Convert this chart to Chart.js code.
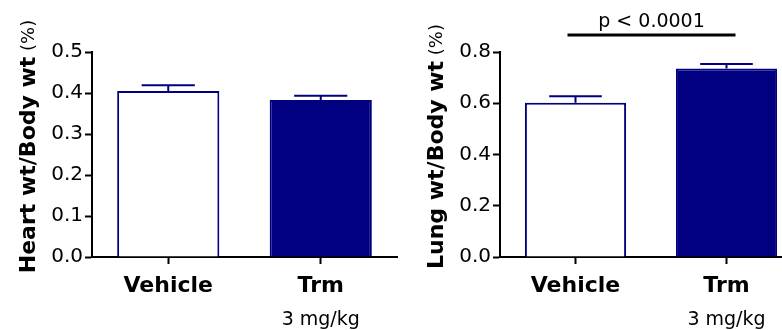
<!DOCTYPE html>
<html>
<head>
<meta charset="utf-8">
<script src="https://cdn.jsdelivr.net/npm/chart.js@4.4.0/dist/chart.umd.min.js"></script>
<style>
  html, body { margin:0; padding:0; background:#fff; overflow:hidden; width:782px; height:330px; }
  .panel { position:absolute; top:0; height:330px; }
  #heartWrap { left:0; width:400px; }
  #lungWrap { left:400px; width:410px; }
</style>
</head>
<body>
<div id="heartWrap" class="panel"><canvas id="heartChart"></canvas></div>
<div id="lungWrap" class="panel"><canvas id="lungChart"></canvas></div>
<script>
// Data
const groups = ['Vehicle', 'Trm'];
const doses = ['', '3 mg/kg'];

const heartMean = [0.405, 0.383];
const heartSem  = [0.014, 0.010];

const lungMean = [0.602, 0.736];
const lungSem  = [0.025, 0.017];

const heartTicks = { max: 0.5, step: 0.1 };
const lungTicks  = { max: 0.8, step: 0.2 };
const lungPValue = 'p < 0.0001';

const NAVY = '#000080';
const FONT = 'DejaVu Sans';

// error bars (upper half only, like Prism)
const errorBars = {
  id: 'errorBars',
  afterDatasetsDraw(chart, args, opts) {
    const ctx = chart.ctx;
    const y = chart.scales.y;
    const meta = chart.getDatasetMeta(0);
    ctx.save();
    ctx.strokeStyle = NAVY;
    ctx.lineWidth = 2;
    meta.data.forEach((bar, i) => {
      const top = y.getPixelForValue(opts.mean[i] + opts.sem[i]);
      const half = bar.width * 0.26;
      ctx.beginPath();
      ctx.moveTo(bar.x, bar.y);
      ctx.lineTo(bar.x, top);
      ctx.moveTo(bar.x - half, top);
      ctx.lineTo(bar.x + half, top);
      ctx.stroke();
    });
    ctx.restore();
  }
};

// y title: bold part + plain "(%)"
const yTitle = {
  id: 'yTitle',
  afterDraw(chart, args, opts) {
    const ctx = chart.ctx;
    const area = chart.chartArea;
    ctx.save();
    ctx.fillStyle = '#000';
    ctx.textBaseline = 'middle';
    ctx.font = `bold 22px "${FONT}"`;
    const w1 = ctx.measureText(opts.text).width;
    ctx.font = `18px "${FONT}"`;
    const w2 = ctx.measureText(' ' + opts.unit).width;
    const mid = (area.top + area.bottom) / 2 - 8;
    ctx.translate(opts.x, mid + (w1 + w2) / 2);
    ctx.rotate(-Math.PI / 2);
    ctx.textAlign = 'left';
    ctx.font = `bold 22px "${FONT}"`;
    ctx.fillText(opts.text, 0, 0);
    ctx.font = `18px "${FONT}"`;
    ctx.fillText(' ' + opts.unit, w1, 0);
    ctx.restore();
  }
};

// second line under the category label
const doseLabels = {
  id: 'doseLabels',
  afterDraw(chart) {
    const ctx = chart.ctx;
    const x = chart.scales.x;
    ctx.save();
    ctx.fillStyle = '#000';
    ctx.font = `19px "${FONT}"`;
    ctx.textAlign = 'center';
    ctx.textBaseline = 'alphabetic';
    doses.forEach((d, i) => {
      if (d) ctx.fillText(d, x.getPixelForValue(i), chart.chartArea.bottom + 68);
    });
    ctx.restore();
  }
};

// significance bracket
const sigBar = {
  id: 'sigBar',
  afterDraw(chart, args, opts) {
    if (!opts.label) return;
    const ctx = chart.ctx;
    const x = chart.scales.x;
    const x1 = x.getPixelForValue(opts.from) - 8;
    const x2 = x.getPixelForValue(opts.to) + 9;
    const yLine = chart.chartArea.top - 17;
    ctx.save();
    ctx.strokeStyle = '#000';
    ctx.lineWidth = 3;
    ctx.beginPath();
    ctx.moveTo(x1, yLine);
    ctx.lineTo(x2, yLine);
    ctx.stroke();
    ctx.fillStyle = '#000';
    ctx.font = `19px "${FONT}"`;
    ctx.textAlign = 'center';
    ctx.textBaseline = 'alphabetic';
    ctx.fillText(opts.label, (x1 + x2) / 2, yLine - 8);
    ctx.restore();
  }
};

function makeChart(id, mean, sem, ticks, cfg) {
  return new Chart(document.getElementById(id), {
    type: 'bar',
    data: {
      labels: groups,
      datasets: [{
        data: mean,
        backgroundColor: ['#ffffff', NAVY],
        borderColor: NAVY,
        borderWidth: 2,
        barPercentage: 0.67,
        categoryPercentage: 1
      }]
    },
    options: {
      responsive: true,
      maintainAspectRatio: false,
      animation: false,
      layout: { padding: { top: 52, right: cfg.padRight, left: 0, bottom: 0 } },
      plugins: {
        legend: { display: false },
        tooltip: { enabled: false },
        errorBars: { mean, sem },
        yTitle: { text: cfg.title, unit: '(%)', x: cfg.titleX },
        sigBar: { label: cfg.sig, from: 0, to: 1 }
      },
      scales: {
        x: {
          grid: { drawOnChartArea: false, offset: false, tickLength: 7, tickWidth: 2, tickColor: '#000' },
          border: { color: '#000', width: 2 },
          ticks: { color: '#000', font: { family: FONT, weight: 'bold', size: 22 }, padding: 9, maxRotation: 0 },
          afterFit(s) { s.height = 73; }
        },
        y: {
          min: 0,
          max: ticks.max,
          grid: { drawOnChartArea: false, tickLength: 7, tickWidth: 2, tickColor: '#000' },
          border: { color: '#000', width: 2 },
          ticks: {
            stepSize: ticks.step,
            color: '#000',
            font: { family: FONT, size: 20 },
            padding: 2,
            callback: v => Number(v).toFixed(1)
          },
          afterFit(s) { s.width = cfg.yWidth; }
        }
      }
    },
    plugins: [errorBars, yTitle, doseLabels, sigBar]
  });
}

makeChart('heartChart', heartMean, heartSem, heartTicks,
  { title: 'Heart wt/Body wt', titleX: 29, yWidth: 92, padRight: 3, sig: '' });
makeChart('lungChart', lungMean, lungSem, lungTicks,
  { title: 'Lung wt/Body wt', titleX: 37, yWidth: 100, padRight: 8, sig: lungPValue });
</script>
</body>
</html>
